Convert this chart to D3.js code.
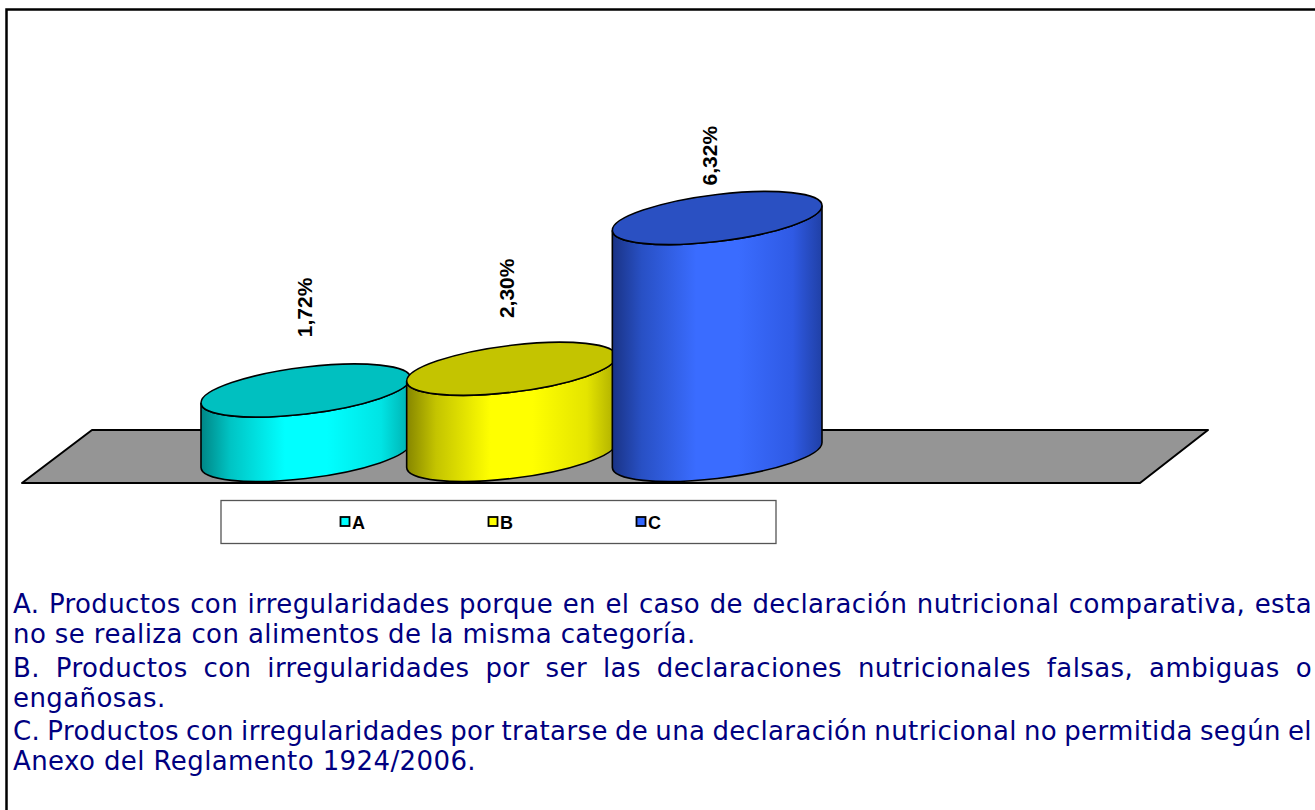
<!DOCTYPE html>
<html lang="es">
<head>
    <meta charset="UTF-8">
    <title>Irregularidades</title>
    <style>
        body { margin: 0; overflow: hidden; background: #fff; }
        .label { font-family: "Liberation Sans", Arial, sans-serif; font-weight: bold; font-size: 21px; fill: #000; }
        .legend-text { font-family: "Liberation Sans", Arial, sans-serif; font-weight: bold; font-size: 18px; fill: #000; }
        .note { font-family: "DejaVu Sans", Verdana, sans-serif; font-size: 26px; letter-spacing: 0.4px; fill: #000080; }
    </style>
</head>
<body>
<script src="https://d3js.org/d3.v7.min.js"></script>
<script>
    var categories = ['A', 'B', 'C']
    var values = [1.72, 2.30, 6.32]
    var valueLabels = ['1,72%', '2,30%', '6,32%']
    var notes = [
        ['A. Productos con irregularidades porque en el caso de declaración nutricional comparativa, esta',
         'no se realiza con alimentos de la misma categoría.'],
        ['B. Productos con irregularidades por ser las declaraciones nutricionales falsas, ambiguas o',
         'engañosas.'],
        ['C. Productos con irregularidades por tratarse de una declaración nutricional no permitida según el',
         'Anexo del Reglamento 1924/2006.']
    ]

    // side gradient stops and top colours per bar
    var palette = {
        A: { side: ['#008686', '#00c4c4', '#00ffff', '#00ffff', '#00e4e4', '#00aeae'], top: '#00c0c0', mark: '#00ffff' },
        B: { side: ['#868600', '#c4c400', '#ffff00', '#ffff00', '#e4e400', '#aeae00'], top: '#c4c400', mark: '#ffff00' },
        C: { side: ['#1a3385', '#2850c4', '#3a6cff', '#3a6cff', '#2f5ae4', '#2040a6'], top: '#2a50c2', mark: '#3366ff' }
    }
    var stopAt = [0, 0.14, 0.4, 0.6, 0.86, 1]

    var W = 1315, H = 810
    var svg = d3.select('body').append('svg')
        .attr('width', W)
        .attr('height', H)

    var defs = svg.append('defs')
    categories.forEach(function (c) {
        var g = defs.append('linearGradient')
            .attr('id', 'side-' + c)
            .attr('x1', 0).attr('x2', 1).attr('y1', 0).attr('y2', 0)
        palette[c].side.forEach(function (col, i) {
            g.append('stop').attr('offset', stopAt[i]).attr('stop-color', col)
        })
    })

    // outer frame
    svg.append('rect')
        .attr('x', 6.5).attr('y', 9.5)
        .attr('width', W + 50).attr('height', H + 50)
        .attr('fill', 'none')
        .attr('stroke', '#000')
        .attr('stroke-width', 2.5)

    var x = d3.scaleBand().domain(categories).range([203, 820]).paddingInner(0)
    var y = d3.scaleLinear().domain([0, 7]).range([455, 192.5])
    var yLabel = d3.scaleLinear().domain([0, 7]).range([394, 163])
    var xLabel = d3.scalePoint().domain(categories).range([304, 709])

    var rx = x.bandwidth() / 2 + 2, ry = 23.5, tilt = -6.7

    // floor
    var floorLeft = 22, floorRight = 1140, floorFront = 483, depthX = 70, depthY = 53
    svg.append('path')
        .attr('d', 'M' + floorLeft + ',' + floorFront +
            'L' + (floorLeft + depthX) + ',' + (floorFront - depthY) +
            'L' + (floorRight + depthX - 2) + ',' + (floorFront - depthY) +
            'L' + floorRight + ',' + floorFront + 'Z')
        .attr('fill', '#959595')
        .attr('stroke', '#000')
        .attr('stroke-width', 2)
        .attr('stroke-linejoin', 'round')

    var data = categories.map(function (c, i) {
        return { cat: c, value: values[i], label: valueLabels[i] }
    })

    var cyl = svg.selectAll('g.cyl')
        .data(data)
        .enter()
        .append('g')
        .attr('class', 'cyl')
        .attr('transform', function (d) {
            return 'translate(' + (x(d.cat) + x.bandwidth() / 2) + ',0) skewY(' + tilt + ')'
        })

    cyl.append('path')
        .attr('d', function (d) {
            var yt = y(d.value), yb = y(0)
            return 'M' + (-rx) + ',' + yt + 'L' + (-rx) + ',' + yb +
                'A' + rx + ',' + ry + ' 0 0 0 ' + rx + ',' + yb +
                'L' + rx + ',' + yt +
                'A' + rx + ',' + ry + ' 0 0 1 ' + (-rx) + ',' + yt + 'Z'
        })
        .attr('fill', function (d) { return 'url(#side-' + d.cat + ')' })
        .attr('stroke', '#000')
        .attr('stroke-width', 1.6)

    cyl.append('ellipse')
        .attr('cx', 0)
        .attr('cy', function (d) { return y(d.value) })
        .attr('rx', rx)
        .attr('ry', ry)
        .attr('fill', function (d) { return palette[d.cat].top })
        .attr('stroke', '#000')
        .attr('stroke-width', 1.6)

    svg.selectAll('text.label')
        .data(data)
        .enter()
        .append('text')
        .attr('class', 'label')
        .attr('transform', function (d) {
            return 'translate(' + xLabel(d.cat) + ',' + yLabel(d.value) + ') rotate(-90)'
        })
        .attr('dy', '0.36em')
        .text(function (d) { return d.label })

    // legend
    var legend = svg.append('g')
    legend.append('rect')
        .attr('x', 221).attr('y', 500.5)
        .attr('width', 555).attr('height', 43)
        .attr('fill', '#fff')
        .attr('stroke', '#555')
        .attr('stroke-width', 1.3)
    var lx = d3.scalePoint().domain(categories).range([340, 636])
    var item = legend.selectAll('g.item')
        .data(categories)
        .enter()
        .append('g')
        .attr('class', 'item')
        .attr('transform', function (c) { return 'translate(' + lx(c) + ',522)' })
    item.append('rect')
        .attr('x', 0.5).attr('y', -5)
        .attr('width', 9).attr('height', 9)
        .attr('fill', function (c) { return palette[c].mark })
        .attr('stroke', '#000')
        .attr('stroke-width', 1.8)
    item.append('text')
        .attr('class', 'legend-text')
        .attr('x', 12)
        .attr('y', 6.5)
        .text(function (c) { return c })

    // notes below the chart, justified like the source document
    var left = 13, right = 1312, firstBase = 613, lineGap = 30, paraGap = 63.5
    notes.forEach(function (para, p) {
        para.forEach(function (line, li) {
            var base = firstBase + p * paraGap + li * lineGap
            var t = svg.append('text').attr('class', 'note').attr('y', base)
            var justify = li < para.length - 1
            if (!justify) {
                t.attr('x', left).text(line)
                return
            }
            var words = line.split(' ')
            var spans = words.map(function (w) {
                return t.append('tspan').text(w)
            })
            var widths = spans.map(function (s) { return s.node().getComputedTextLength() })
            var total = d3.sum(widths)
            var gap = (right - left - total) / (words.length - 1)
            var pos = left
            spans.forEach(function (s, i) {
                s.attr('x', pos)
                pos += widths[i] + gap
            })
        })
    })
</script>
</body>
</html>
